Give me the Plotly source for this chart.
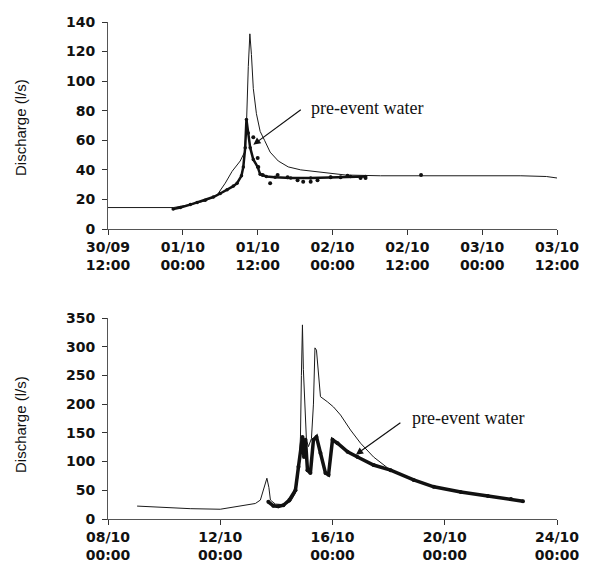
import pandas as pd
import plotly.graph_objects as go

# ---------------- Top event (30/09 - 03/10) ----------------
top_base = pd.Timestamp("1999-09-30 12:00")
top_total_h = [0, 5.1, 10.5, 13.2, 15.6, 17.5, 18.8, 19.9, 21.2, 21.9, 22.2, 22.5, 22.75, 23.0, 23.3,
               23.8, 24.4, 25.1, 26.0, 27.3, 28.9, 30.9, 33.3, 35.7, 38.1, 43.7, 50.2, 58.2, 66.2, 70.3, 72.0]
top_total_q = [14.5, 14.5, 14.5, 16.5, 19, 23, 31, 39, 46, 52, 70, 110, 132, 118, 95,
               78, 66, 60, 52, 46, 42, 40, 39, 37.5, 36.5, 36, 36, 36.5, 36, 35.5, 34.5]

top_pre_h = [10.45, 11.6, 13.2, 14.3, 15.6, 16.9, 18.0, 19.1, 20.1, 20.7, 21.4, 21.7, 22.0, 22.2,
             22.5, 22.8, 23.3, 24.0, 24.4, 25.4, 26.8, 29.3, 32.5, 35.7, 38.9, 41.3]
top_pre_q = [13.5, 14.5, 16.5, 18, 19.5, 21.6, 24, 26.5, 29, 31, 36, 42, 55, 74,
             65, 55, 47, 42, 37, 35.5, 35, 34.5, 34.5, 35, 35.5, 35.5]

top_samp_h = [23.3, 24.0, 24.1, 24.8, 26.0, 27.2, 28.8, 30.4, 31.3, 32.5, 33.6, 35.7, 37.3, 38.4, 40.5, 41.3, 50.2]
top_samp_q = [62, 48, 42, 36.5, 31, 36.5, 35, 33, 32, 32, 33, 35, 35, 36, 34.5, 34.5, 36.5]

top_tick_labels = ["30/09<br>12:00", "01/10<br>00:00", "01/10<br>12:00", "02/10<br>00:00",
                   "02/10<br>12:00", "03/10<br>00:00", "03/10<br>12:00"]
top_tick_h = [0, 12, 24, 36, 48, 60, 72]

# ---------------- Bottom event (08/10 - 24/10) ----------------
bot_base = pd.Timestamp("1999-10-08 00:00")
bot_total_h = [24.9, 44.6, 70.3, 96, 102.9, 108.9, 117.4, 126, 130.3, 133.7, 135.9, 137.6, 138.9, 143.1,
               150, 156, 160.3, 162.9, 164.6, 165.4, 166.3, 167.1, 168, 169.7, 171.4, 174, 175.7, 177,
               178.3, 179.6, 181.7, 187.7, 192.9, 198.9, 207.4, 216, 227.1, 239.1, 246, 261.4, 278.6,
               301.7, 324.9, 344.6, 354.9]
bot_total_q = [22.5, 20, 18, 17, 19, 22, 24, 27, 33, 55, 71, 55, 33, 26,
               25, 30, 45, 80, 143, 250, 338, 260, 207, 138, 126, 140, 200, 298,
               294, 265, 213, 204, 195, 181, 155, 132, 108, 89, 82, 68, 56,
               47, 40, 35, 31]

bot_pre_h = [137.1, 141.4, 145.7, 150, 155.1, 160.3, 162.9, 166.3, 167.6, 168.9, 170.6, 173.1, 175.7,
             178.3, 181.7, 186, 188.6, 192, 196.3, 204.9, 213.4, 227.1, 241.7, 261.4, 278.6, 301.7,
             324.9, 344.6, 354.9]
bot_pre_q = [30, 23, 22, 24, 33, 50, 91, 143, 108, 138, 85, 80, 138,
             143, 115, 80, 77, 138, 132, 117, 108, 94, 85, 68, 56, 47,
             40, 35, 31]

bot_tick_labels = ["08/10<br>00:00", "12/10<br>00:00", "16/10<br>00:00", "20/10<br>00:00", "24/10<br>00:00"]
bot_tick_h = [0, 96, 192, 288, 384]


def to_time(base, hours):
    return [base + pd.Timedelta(hours=h) for h in hours]


fig = go.Figure()

fig.add_trace(go.Scatter(x=to_time(top_base, top_total_h), y=top_total_q, mode="lines",
                         line=dict(color="#1a1a1a", width=1), xaxis="x", yaxis="y", showlegend=False))
fig.add_trace(go.Scatter(x=to_time(top_base, top_pre_h), y=top_pre_q, mode="lines+markers",
                         line=dict(color="#111111", width=2.5), marker=dict(size=3.5, color="#111111"),
                         xaxis="x", yaxis="y", showlegend=False))
fig.add_trace(go.Scatter(x=to_time(top_base, top_samp_h), y=top_samp_q, mode="markers",
                         marker=dict(size=4, color="#111111"), xaxis="x", yaxis="y", showlegend=False))

fig.add_trace(go.Scatter(x=to_time(bot_base, bot_total_h), y=bot_total_q, mode="lines",
                         line=dict(color="#1a1a1a", width=1), xaxis="x2", yaxis="y2", showlegend=False))
fig.add_trace(go.Scatter(x=to_time(bot_base, bot_pre_h), y=bot_pre_q, mode="lines+markers",
                         line=dict(color="#111111", width=3.5), marker=dict(size=4, color="#111111"),
                         xaxis="x2", yaxis="y2", showlegend=False))

tick_font = dict(family="DejaVu Sans", size=14, color="#111111", weight="bold")
axis_common = dict(showgrid=False, zeroline=False, showline=True, linecolor="#555555", linewidth=1,
                   ticks="outside", ticklen=5, tickcolor="#333333", tickfont=tick_font, automargin=False)

# page has an 8px body margin, so the figure is 8px smaller than the window
W, H = 582, 557
xdom = [100 / W, 549 / W]

fig.update_layout(
    width=W, height=H,
    margin=dict(l=0, r=0, t=0, b=0),
    paper_bgcolor="white", plot_bgcolor="white",
    xaxis=dict(domain=xdom, anchor="y", type="date",
               range=[top_base, top_base + pd.Timedelta(hours=72)],
               tickvals=to_time(top_base, top_tick_h), ticktext=top_tick_labels, **axis_common),
    yaxis=dict(domain=[1 - 221 / H, 1 - 14 / H], anchor="x", range=[0, 140], dtick=20,
               ticklabelstandoff=4, **axis_common),
    xaxis2=dict(domain=xdom, anchor="y2", type="date",
                range=[bot_base, bot_base + pd.Timedelta(hours=384)],
                tickvals=to_time(bot_base, bot_tick_h), ticktext=bot_tick_labels, **axis_common),
    yaxis2=dict(domain=[1 - 511 / H, 1 - 310 / H], anchor="x2", range=[0, 350], dtick=50,
                ticklabelstandoff=4, **axis_common),
)

label_font = dict(family="Liberation Sans", size=15, color="#111111")
fig.add_annotation(text="Discharge (l/s)", xref="paper", yref="paper", x=12 / W, y=1 - 120 / H,
                   textangle=-90, showarrow=False, font=label_font, xanchor="center", yanchor="middle")
fig.add_annotation(text="Discharge (l/s)", xref="paper", yref="paper", x=12 / W, y=1 - 417 / H,
                   textangle=-90, showarrow=False, font=label_font, xanchor="center", yanchor="middle")

ann_font = dict(family="Liberation Serif", size=18, color="#111111")
# top arrow + text
fig.add_annotation(xref="x", yref="y", x=top_base + pd.Timedelta(hours=23.3), y=57,
                   text="", showarrow=True, arrowhead=2, arrowsize=1.2, arrowwidth=1.2,
                   arrowcolor="#111111", ax=49, ay=-36)
fig.add_annotation(xref="x", yref="y", x=top_base + pd.Timedelta(hours=32.2), y=82,
                   text="pre-event water", showarrow=False, font=ann_font, xanchor="left", yanchor="middle")
# bottom arrow + text
fig.add_annotation(xref="x2", yref="y2", x=bot_base + pd.Timedelta(hours=212), y=112,
                   text="", showarrow=True, arrowhead=2, arrowsize=1.2, arrowwidth=1.2,
                   arrowcolor="#111111", ax=46, ay=-33)
fig.add_annotation(xref="x2", yref="y2", x=bot_base + pd.Timedelta(hours=258), y=176,
                   text="pre-event water", showarrow=False, font=ann_font, xanchor="left", yanchor="middle")

fig.write_html("out.html")
